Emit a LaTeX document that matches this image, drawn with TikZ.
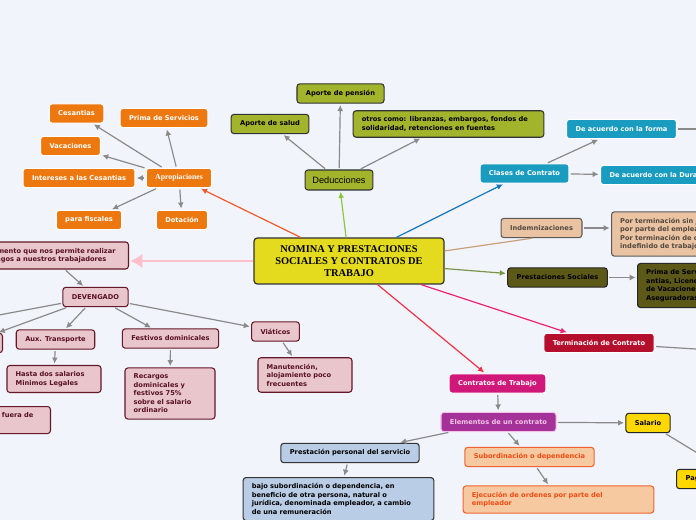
\documentclass[tikz,border=0pt]{standalone}
\usepackage{fontspec}
\setmainfont{DejaVu Sans}
\newfontfamily\timesfont{Liberation Serif}
\newfontfamily\arialfont{Liberation Sans}
\usepackage{xcolor}
\usetikzlibrary{arrows.meta,positioning,calc}

\definecolor{bgpaper}{RGB}{242,244,252}
\definecolor{rootfill}{RGB}{228,218,30}
\definecolor{orangefill}{RGB}{238,120,16}
\definecolor{olivefill}{RGB}{162,180,44}
\definecolor{tealfill}{RGB}{26,156,192}
\definecolor{tanfill}{RGB}{233,195,162}
\definecolor{tantext}{RGB}{84,72,62}
\definecolor{darkolive}{RGB}{92,88,24}
\definecolor{crimson}{RGB}{180,16,46}
\definecolor{magentafill}{RGB}{208,24,122}
\definecolor{purplefill}{RGB}{164,50,152}
\definecolor{purpletext}{RGB}{244,196,232}
\definecolor{goldfill}{RGB}{255,216,0}
\definecolor{bluefill}{RGB}{186,205,230}
\definecolor{peachfill}{RGB}{246,201,160}
\definecolor{peachtext}{RGB}{240,76,20}
\definecolor{peachline}{RGB}{240,100,50}
\definecolor{pinkfill}{RGB}{232,198,204}
\definecolor{maroon}{RGB}{100,24,40}
\definecolor{maroontext}{RGB}{88,16,36}
\definecolor{arrgray}{RGB}{138,138,138}
\definecolor{edgeorange}{RGB}{240,90,40}
\definecolor{edgegreen}{RGB}{140,198,63}
\definecolor{edgeblue}{RGB}{16,118,186}
\definecolor{edgetan}{RGB}{200,160,122}
\definecolor{edgeolive}{RGB}{120,150,70}
\definecolor{edgepink}{RGB}{236,34,119}
\definecolor{edgered}{RGB}{240,50,70}
\definecolor{edgelight}{RGB}{255,192,203}

\begin{document}
\begin{tikzpicture}[
x=0.75pt,
y=-0.75pt,
every node/.style={font=\fontsize{5}{6.4}\selectfont\bfseries},
leaf/.style={rectangle,rounded corners=2.2pt,line width=0.8pt,inner xsep=6.75pt,inner ysep=2pt,minimum height=14.5pt},
note/.style={rectangle,rounded corners=2.2pt,line width=0.8pt,inner xsep=6.5pt,inner ysep=4.5pt,align=left},
root/.style={rectangle,rounded corners=2.5pt,draw=black!80,line width=0.9pt,fill=rootfill,align=center,minimum width=142.5pt,minimum height=34.5pt,font=\timesfont\bfseries\fontsize{7.8}{8.8}\selectfont},
orangebox/.style={leaf,fill=orangefill,draw=white,text=white},
olivebox/.style={leaf,fill=olivefill,draw=black!80,text=black},
tealbox/.style={leaf,fill=tealfill,draw=white,text=white},
tanbox/.style={fill=tanfill,draw=black!65,text=tantext},
darkbox/.style={fill=darkolive,draw=black!85,text=black},
pinkbox/.style={fill=pinkfill,draw=maroon,text=maroontext},
arr/.style={-{Latex[length=4.5pt,width=4.5pt]},draw=arrgray,line width=0.9pt,shorten <=1pt,shorten >=1pt},
lnk/.style={-{Latex[length=4.5pt,width=4.5pt]},line width=0.9pt,shorten >=1pt}
]
\useasboundingbox (0,0) rectangle (696,520);
\clip (0,0) rectangle (696,520);
\fill[bgpaper] (0,0) rectangle (696,520);

% centro
\node[root] (nomina) at (349,261) {NOMINA Y PRESTACIONES\\SOCIALES Y CONTRATOS DE\\TRABAJO};

% apropiaciones
\node[orangebox,font=\timesfont\bfseries\fontsize{5.8}{7}\selectfont] (aprop) at (179,178) {Apropiaciones};
\node[orangebox] (cesant) at (76.5,113.5) {Cesantias};
\node[orangebox] (prima) at (164,118) {Prima de Servicios};
\node[orangebox] (vacac) at (70.5,146) {Vacaciones};
\node[orangebox] (interes) at (79,178) {Intereses a las Cesantias};
\node[orangebox] (fiscal) at (89,220) {para fiscales};
\node[orangebox] (dotac) at (182,220) {Dotación};

% deducciones
\node[olivebox,minimum height=15pt,inner xsep=5.5pt,font=\arialfont\fontsize{6.9}{8}\selectfont] (deduc) at (339,180) {Deducciones};
\node[olivebox] (pension) at (340.5,93.5) {Aporte de pensión};
\node[olivebox] (salud) at (270,124) {Aporte de salud};
\node[note,fill=olivefill,draw=black!80,text width=130pt] (otros) at (448.5,124) {otros como: libranzas, embargos, fondos de\\solidaridad, retenciones en fuentes};

% clases de contrato
\node[tealbox] (clases) at (524.5,173.5) {Clases de Contrato};
\node[tealbox] (forma) at (621.5,129) {De acuerdo con la forma};
\node[tealbox,anchor=west] (durac) at (600,175) {De acuerdo con la Duración};
\coordinate (formaout) at (760,129);

% indemnizaciones y prestaciones
\node[leaf,tanbox] (indem) at (541.5,228) {Indemnizaciones};
\node[note,tanbox,anchor=west,text width=135pt] (indemtxt) at (611,234) {Por terminación sin justa causa\\por parte del empleador.\\Por terminación de contrato\\indefinido de trabajo};
\node[leaf,darkbox] (prest) at (557.5,277.5) {Prestaciones Sociales};
\node[note,darkbox,anchor=west,text width=120pt] (presttxt) at (637,285.5) {Prima de Servicios, Ces\\antias, Licencias\\de Vacaciones, Dotación\\Aseguradoras};

% terminacion y contratos
\node[leaf,fill=crimson,draw=white,text=white] (termin) at (599,343) {Terminación de Contrato};
\coordinate (terminout) at (760,353);
\node[leaf,fill=magentafill,draw=white,text=white] (contrat) at (497.5,383.5) {Contratos de Trabajo};
\node[leaf,fill=purplefill,draw=purpletext,text=purpletext] (elem) at (498.5,422) {Elementos de un contrato};
\node[leaf,fill=goldfill,draw=black!85,text=black] (salario) at (648,423) {Salario};
\coordinate (salarioout) at (760,491);
\node[leaf,fill=goldfill,draw=black!85,text=black,anchor=west] (pago) at (676,479) {Pago};
\node[leaf,fill=bluefill,draw=black!80,text=black] (prestac) at (350,453) {Prestación personal del servicio};
\node[note,fill=bluefill,draw=black!80,text=black,anchor=north,text width=130pt] (bajo) at (338.5,477) {bajo subordinación o dependencia, en\\beneficio de otra persona, natural o\\jurídica, denominada empleador, a cambio\\de una remuneración};
\node[leaf,fill=peachfill,draw=peachline,text=peachtext] (subord) at (529.5,457) {Subordinación o dependencia};
\node[note,fill=peachfill,draw=peachline,text=peachtext,text width=130pt] (ejecuc) at (558.5,499.5) {Ejecución de ordenes por parte del\\empleador};

% nomina / devengado
\node[note,pinkbox,anchor=east,text width=106pt] (doc) at (129,255.5) {Documento que nos permite realizar\\los pagos a nuestros trabajadores};
\node[leaf,pinkbox] (deveng) at (95.5,297) {DEVENGADO};
\coordinate (devengout) at (-60,326);
\node[leaf,pinkbox,anchor=east] (horas) at (3,343) {Horas extras};
\node[leaf,pinkbox] (aux) at (55.5,339.5) {Aux. Transporte};
\node[note,pinkbox,text width=57.5pt] (hasta) at (54,379) {Hasta dos salarios\\Minimos Legales};
\node[note,pinkbox,anchor=north east,text width=80pt] (fuera) at (51,406) {Trabajo realizado fuera de\\la jornada};
\node[leaf,pinkbox] (festiv) at (170.5,338.5) {Festivos dominicales};
\node[note,pinkbox,text width=54.5pt] (recarg) at (170,393.5) {Recargos\\dominicales y\\festivos 75\%\\sobre el salario\\ordinario};
\node[leaf,pinkbox] (viatic) at (275.5,331.5) {Viáticos};
\node[note,pinkbox,text width=57.5pt] (manut) at (305,375) {Manutención,\\alojamiento poco\\frecuentes};

% enlaces del centro
\draw[lnk,edgeorange] (nomina) -- (aprop);
\draw[lnk,edgegreen] (nomina) -- (deduc);
\draw[lnk,edgeblue] (nomina) -- (clases);
\draw[line width=0.9pt,edgetan] (nomina.6.6) -- (indem.228);
\draw[lnk,edgeolive] (nomina) -- (prest);
\draw[lnk,edgepink] (nomina) -- (termin);
\draw[lnk,edgered] (nomina) -- (contrat);
\draw[-{Latex[length=9pt,width=11pt]},line width=2.2pt,edgelight,shorten >=1pt] (nomina.west) -- (nomina.west -| doc.east);

% ramas
\draw[arr] (aprop) -- (cesant);
\draw[arr] (aprop) -- (prima);
\draw[arr] (aprop) -- (vacac);
\draw[arr] (aprop) -- (interes);
\draw[arr] (aprop) -- (fiscal);
\draw[arr] (aprop) -- (dotac);

\draw[arr] (deduc) -- (salud);
\draw[arr] (deduc) -- (pension);
\draw[arr] (deduc) -- (otros);

\draw[arr] (clases) -- (forma);
\draw[arr] (clases) -- (durac);
\draw[arr] (forma) -- (formaout);

\draw[arr] (indem.east) -- (indem.east -| indemtxt.west);
\draw[arr] (prest.east) -- (prest.east -| presttxt.west);
\draw[arr] (termin) -- (terminout);

\draw[arr] (contrat) -- (elem);
\draw[arr] (elem) -- (salario);
\draw[arr] (salario) -- (salarioout);
\draw[arr] (elem) -- (prestac);
\draw[arr] (prestac) -- (bajo);
\draw[arr] (elem) -- (subord);
\draw[arr] (subord) -- (ejecuc);

\draw[arr] (doc) -- (deveng);
\draw[arr] (deveng) -- (devengout);
\draw[arr] (deveng) -- (horas);
\draw[arr] (deveng) -- (aux);
\draw[arr] (aux) -- (hasta);
\draw[arr] (deveng) -- (festiv);
\draw[arr] (festiv) -- (recarg);
\draw[arr] (deveng) -- (viatic);
\draw[arr] (viatic) -- (manut);
\end{tikzpicture}
\end{document}
